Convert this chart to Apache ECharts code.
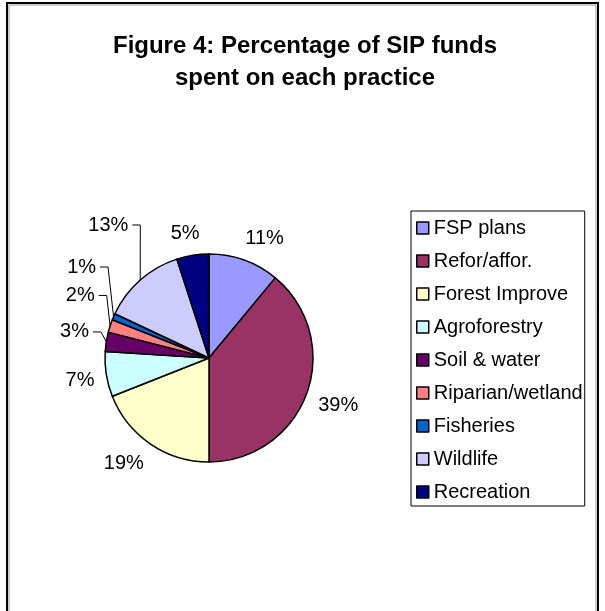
<!DOCTYPE html>
<html>
<head>
<meta charset="utf-8">
<script src="https://cdn.jsdelivr.net/npm/echarts@6/dist/echarts.min.js"></script>
<style>
  html, body { margin: 0; padding: 0; background: #fff; }
  #chart { width: 605px; height: 611px; }
</style>
</head>
<body>
<div id="chart"></div>
<script>
// Share of SIP funds by practice (percent)
const practices = ['FSP plans', 'Refor/affor.', 'Forest Improve', 'Agroforestry', 'Soil & water',
                   'Riparian/wetland', 'Fisheries', 'Wildlife', 'Recreation'];
const sharePercent = [11, 39, 19, 7, 3, 2, 1, 13, 5];
const sliceColors = ['#9999FF', '#993366', '#FFFFCC', '#CCFFFF', '#660066',
                     '#FF8080', '#0066CC', '#CCCCFF', '#000080'];

const FONT = '"Liberation Sans", Arial, Helvetica, sans-serif';
const PIE_CX = 209, PIE_CY = 358, PIE_R = 104;
const LABEL_GAP = 12;
// small left-hand slices: labels lifted away from the rim and tied back with a leader line
const labelNudge = { 4: [-5.5, -4], 5: [-4, -19], 6: [-6.5, -35], 7: [-4, -36] };

const total = sharePercent.reduce((a, b) => a + b, 0);
const midAngles = [];
let run = 0;
sharePercent.forEach(v => { midAngles.push((run + v / 2) / total * 2 * Math.PI); run += v; });

// Place each label just outside the rim along its slice's middle direction
function placeLabel(params) {
  const i = params.dataIndex;
  const a = midAngles[i];
  const ux = Math.sin(a), uy = -Math.cos(a);
  const w = params.labelRect.width, h = params.labelRect.height;
  const s = v => Math.max(-1, Math.min(1, v / 0.4));
  let x = PIE_CX + (PIE_R + LABEL_GAP) * ux + w / 2 * s(ux);
  let y = PIE_CY + (PIE_R + LABEL_GAP) * uy + h / 2 * s(uy);
  const out = { align: 'center', verticalAlign: 'middle' };
  const n = labelNudge[i];
  if (n) {
    x += n[0];
    y += n[1];
    const endX = x + w / 2 + 4;
    out.labelLinePoints = [
      [PIE_CX + PIE_R * ux, PIE_CY + PIE_R * uy],
      [endX + 8, y],
      [endX, y]
    ];
  }
  out.x = x;
  out.y = y;
  return out;
}

const chart = echarts.init(document.getElementById('chart'), null, { renderer: 'canvas' });
chart.setOption({
  animation: false,
  backgroundColor: '#fff',
  graphic: [
    { type: 'rect', silent: true, z: 0,
      shape: { x: 7, y: 3, width: 591, height: 700 },
      style: { fill: 'none', stroke: '#000', lineWidth: 2 } },
    { type: 'rect', silent: true, z: 0,
      shape: { x: 9, y: 5, width: 587, height: 700 },
      style: { fill: 'none', stroke: '#9a9a9a', lineWidth: 1 } }
  ],
  title: {
    text: 'Figure 4: Percentage of SIP funds\nspent on each practice',
    left: 300,
    top: 25,
    textAlign: 'center',
    textStyle: { fontFamily: FONT, fontSize: 24, fontWeight: 'bold', color: '#000', lineHeight: 32 }
  },
  legend: {
    orient: 'vertical',
    left: 411,
    top: 211,
    padding: [7, 2, 4, 5],
    borderColor: '#000',
    borderWidth: 1,
    itemWidth: 12,
    itemHeight: 12,
    itemGap: 13,
    icon: 'rect',
    selectedMode: false,
    itemStyle: { borderColor: '#000', borderWidth: 1.5 },
    textStyle: { fontFamily: FONT, fontSize: 20, color: '#000', lineHeight: 20 },
    data: practices
  },
  series: [{
    type: 'pie',
    center: [PIE_CX, PIE_CY],
    radius: PIE_R,
    startAngle: 90,
    clockwise: true,
    avoidLabelOverlap: false,
    silent: true,
    emphasis: { disabled: true },
    itemStyle: { borderColor: '#000', borderWidth: 1.5 },
    label: {
      show: true,
      position: 'outside',
      formatter: p => p.value + '%',
      fontFamily: FONT,
      fontSize: 20,
      color: '#000'
    },
    labelLine: { show: false, length: 10, length2: 6, lineStyle: { color: '#000', width: 1 } },
    labelLayout: placeLabel,
    data: practices.map((name, i) => ({
      name,
      value: sharePercent[i],
      itemStyle: { color: sliceColors[i] },
      labelLine: { show: i in labelNudge }
    }))
  }]
});
</script>
</body>
</html>
